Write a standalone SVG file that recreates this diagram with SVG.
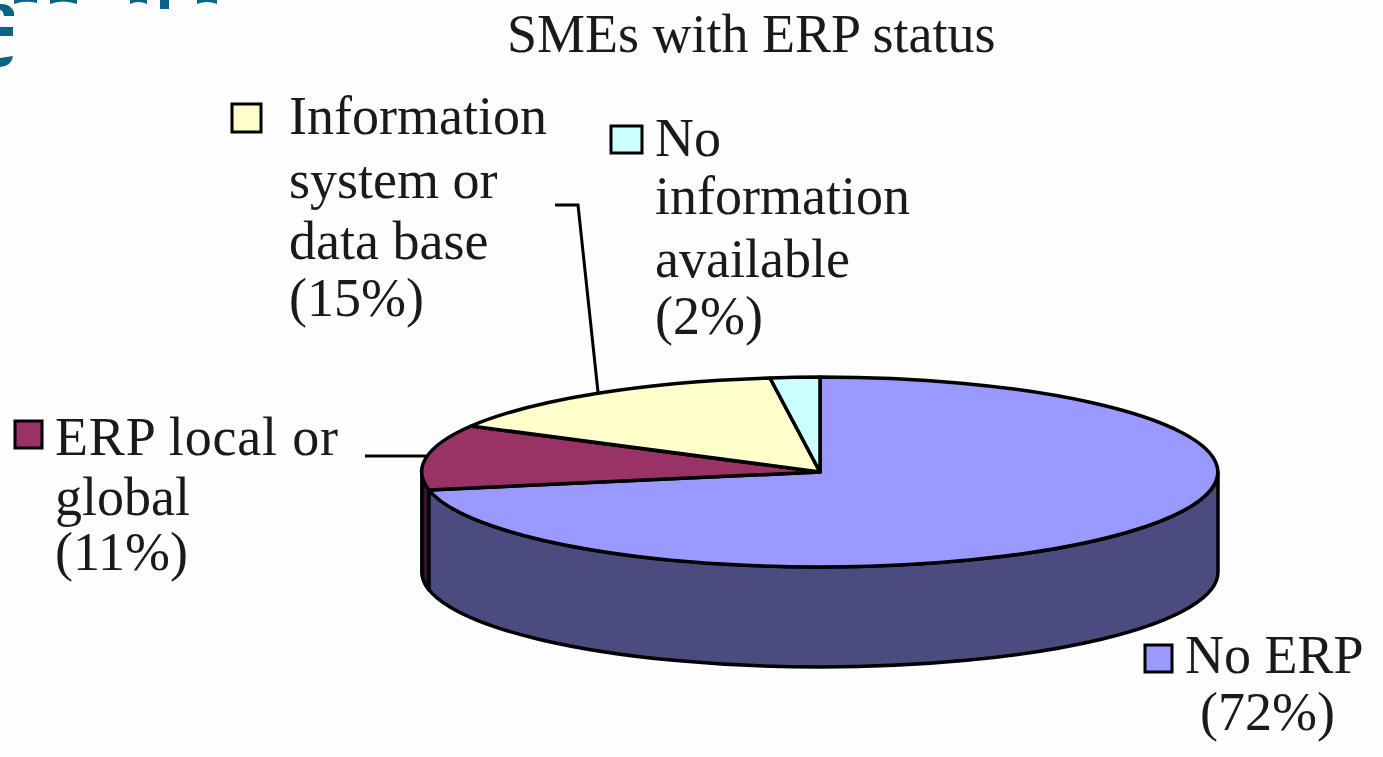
<svg xmlns="http://www.w3.org/2000/svg" width="1383" height="757" viewBox="0 0 1383 757">
<style>
text{font-family:"Liberation Serif","Times New Roman",serif;font-size:54px;fill:#1a1a1a}
.edge{stroke:#000;stroke-width:3.5;stroke-linejoin:round}
.lead{stroke:#000;stroke-width:3;fill:none}
.box{stroke:#000;stroke-width:3}
.teal{fill:#0b6483}
</style>
<rect width="1383" height="757" fill="#fdfdfd"/>
<g id="title-fragment">
<path class="teal" d="M0,4 Q10,3 14,12 L14,16 L4,16 Q3,10 0,10 Z"/>
<rect class="teal" x="0" y="27" width="13" height="9"/>
<path class="teal" d="M0,58 L13,56 Q12,66 0,67 Z"/>
<path class="teal" d="M14,4 Q25,0 37,3 L37,0 L14,0 Z"/>
<path class="teal" d="M50,4 Q63,-1 77,4 L77,0 L50,0 Z"/>
<path class="teal" d="M130,4 Q138,0 147,4 L147,0 L130,0 Z"/>
<rect class="teal" x="160" y="0" width="9" height="9"/>
<path class="teal" d="M197,4 Q207,0 217,4 L217,0 L197,0 Z"/>
</g>
<text id="chart-title" x="507" y="52">SMEs with ERP status</text>
<g id="pie">
<path id="side" d="M422,472 L422,572 A398,95 0 0 0 1218,572 L1218,472 A398,95 0 0 1 422,472 Z" fill="#4b4b7f" class="edge"/>
<path id="side-red" d="M429,490 L429,590 A398,95 0 0 1 422,572 L422,472 A398,95 0 0 0 429,490 Z" fill="#3a1428" class="edge"/>
<g id="slice-no-erp"><path d="M820,472 L820,377 A398,95 0 1 1 429,490 Z" fill="#9999ff" class="edge"/></g>
<g id="slice-erp"><path d="M820,472 L429,490 A398,95 0 0 1 471,426 Z" fill="#993366" class="edge"/></g>
<g id="slice-info"><path d="M820,472 L471,426 A398,95 0 0 1 770,378 Z" fill="#ffffcc" class="edge"/></g>
<g id="slice-noinfo"><path d="M820,472 L770,378 A398,95 0 0 1 820,377 Z" fill="#ccffff" class="edge"/></g>
</g>
<g id="connectors">
<path class="lead" d="M365,456 L426,456"/>
<path class="lead" d="M555,205 L578,205 L598,392"/>
</g>
<g id="legend-info">
<rect class="box" x="232" y="104" width="29" height="28" fill="#ffffcc"/>
<text x="289" y="134">Information</text>
<text x="289" y="198">system or</text>
<text x="289" y="259">data base</text>
<text x="289" y="316">(15%)</text>
</g>
<g id="legend-noinfo">
<rect class="box" x="611" y="126" width="31" height="27" fill="#ccffff"/>
<text x="655" y="156">No</text>
<text x="655" y="214">information</text>
<text x="655" y="277">available</text>
<text x="655" y="334">(2%)</text>
</g>
<g id="legend-erp">
<rect class="box" x="15" y="421" width="27" height="27" fill="#993366"/>
<text x="55" y="455" textLength="283">ERP local or</text>
<text x="55" y="515">global</text>
<text x="55" y="570">(11%)</text>
</g>
<g id="legend-noerp">
<rect class="box" x="1145" y="645" width="27" height="27" fill="#9999ff"/>
<text x="1185" y="673">No ERP</text>
<text x="1200" y="730">(72%)</text>
</g>
</svg>
